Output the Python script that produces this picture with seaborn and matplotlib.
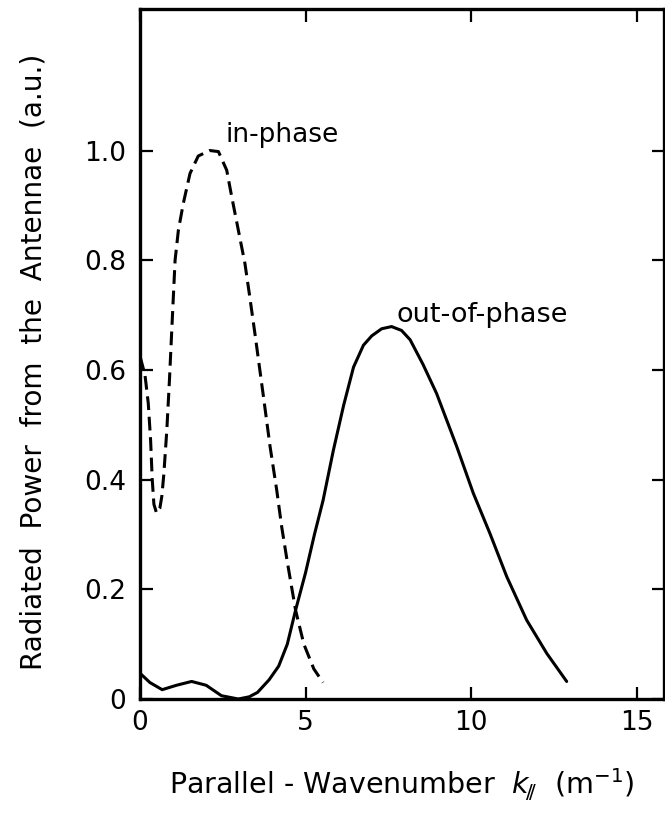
import matplotlib
matplotlib.use("Agg")
import matplotlib.pyplot as plt
import seaborn as sns
import pandas as pd

# ---- data ----
in_phase_k = [0.0, 0.15, 0.25, 0.32, 0.37, 0.42, 0.50, 0.60, 0.66, 0.72, 0.81, 0.89,
              0.96, 1.06, 1.16, 1.31, 1.51, 1.76, 2.11, 2.37, 2.62, 2.77, 2.97, 3.17,
              3.30, 3.47, 3.73, 3.93, 4.13, 4.28, 4.45, 4.70, 4.95, 5.25, 5.53]
in_phase_p = [0.625, 0.591, 0.539, 0.472, 0.40, 0.355, 0.339, 0.348, 0.37, 0.41, 0.49, 0.582,
              0.673, 0.80, 0.855, 0.904, 0.958, 0.99, 1.0, 0.998, 0.964, 0.916, 0.855, 0.794,
              0.74, 0.667, 0.551, 0.46, 0.381, 0.314, 0.25, 0.162, 0.10, 0.055, 0.03]

out_phase_k = [0.0, 0.3, 0.67, 1.1, 1.56, 2.0, 2.46, 2.97, 3.3, 3.55, 3.9, 4.19,
               4.45, 4.70, 5.0, 5.27, 5.53, 5.84, 6.15, 6.45, 6.75, 7.0, 7.3, 7.6,
               7.9, 8.16, 8.55, 8.96, 9.57, 10.07, 10.57, 11.08, 11.68, 12.29, 12.89]
out_phase_p = [0.047, 0.03, 0.017, 0.025, 0.032, 0.025, 0.006, 0.0, 0.004, 0.012, 0.035, 0.06,
               0.10, 0.162, 0.23, 0.30, 0.362, 0.453, 0.535, 0.605, 0.645, 0.662, 0.675, 0.679,
               0.672, 0.655, 0.61, 0.557, 0.46, 0.375, 0.302, 0.223, 0.144, 0.083, 0.032]

x_ticks = [0, 5, 10, 15]
x_tick_labels = ["0", "5", "10", "15"]
y_ticks = [0, 0.2, 0.4, 0.6, 0.8, 1.0]
y_tick_labels = ["0", "0.2", "0.4", "0.6", "0.8", "1.0"]

label_in = "in-phase"
label_out = "out-of-phase"
x_label = r"Parallel - Wavenumber  $k_{\!/\!/}$  (m$^{-1}$)"
y_label = "Radiated  Power  from  the  Antennae  (a.u.)"

# ---- plotting ----
sns.set_theme(style="ticks")
plt.rcParams["font.family"] = ["DejaVu Sans"]
plt.rcParams["mathtext.fontset"] = "dejavusans"

fig = plt.figure(figsize=(6.65, 8.16), dpi=100)
ax = fig.add_axes([140 / 665, 1 - 699 / 816, 524 / 665, 690 / 816])

df_in = pd.DataFrame({"k": in_phase_k, "P": in_phase_p})
df_out = pd.DataFrame({"k": out_phase_k, "P": out_phase_p})

sns.lineplot(data=df_in, x="k", y="P", ax=ax, color="black", lw=2.2,
             estimator=None, sort=False)
ax.lines[-1].set_dashes([4.5, 2.2])
sns.lineplot(data=df_out, x="k", y="P", ax=ax, color="black", lw=2.2,
             estimator=None, sort=False)

ax.set_xlim(0, 15.83)
ax.set_ylim(0, 1.258)

ax.set_xticks(x_ticks)
ax.set_xticklabels(x_tick_labels)
ax.set_yticks(y_ticks)
ax.set_yticklabels(y_tick_labels)

ax.tick_params(direction="in", length=9, width=1.6, top=True, right=True,
               labelsize=19, colors="black", pad=8)
ax.tick_params(axis="y", pad=10)
for s in ax.spines.values():
    s.set_linewidth(2.4)
    s.set_color("black")

ax.set_xlabel(x_label, fontsize=20.5, labelpad=22, color="black")
ax.set_ylabel(y_label, fontsize=20.2, color="black")
ax.yaxis.set_label_coords(-0.177, 0.488)

ax.text(2.57, 1.016, label_in, fontsize=19, ha="left", va="baseline", color="black")
ax.text(7.76, 0.688, label_out, fontsize=19.5, ha="left", va="baseline", color="black")

fig.savefig("out.png", dpi=100, facecolor="white")
